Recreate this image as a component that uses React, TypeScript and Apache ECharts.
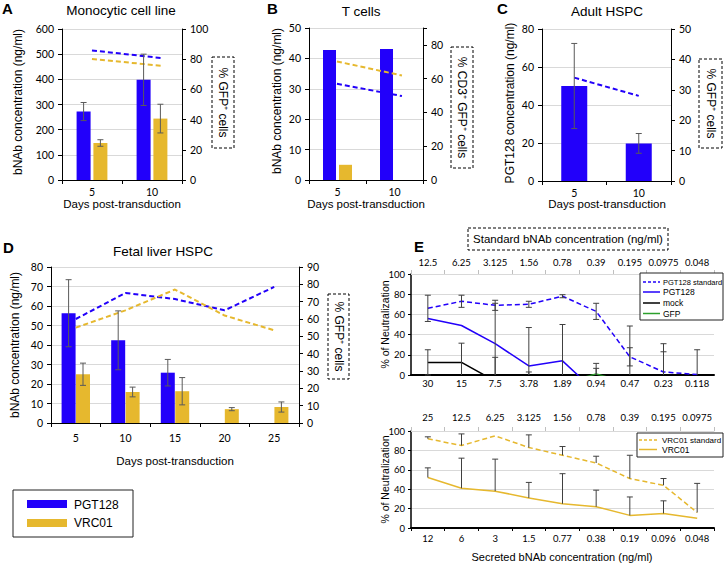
import React, { useEffect, useRef } from 'react';
import * as echarts from 'echarts';

const BLUE = '#2200FA';
const GOLD = '#E6B82E';
const GREEN = '#2CA02C';
const GRID_C = '#D9D9D9';
const ERR_C = '#5A5A5A';
const FONT = '"Liberation Sans", Arial, sans-serif';
const NUM = 'Lato, "Liberation Sans", sans-serif';

// ---- Panel A: Monocytic cell line
const daysAB = ['5', '10'];
const dayNumAB = [5, 10];
const aPGT = [272, 398];
const aPGTErr = [36, 102];
const aVRC = [147, 244];
const aVRCErr = [13, 57];
const aPGTGfp = [85.8, 80.8];
const aVRCGfp = [80.1, 75.7];

// ---- Panel B: T cells
const bPGT = [42.8, 43.1];
const bVRC = [5.0, null];
const bPGTGfp = [57.0, 49.7];
const bVRCGfp = [70.2, 61.9];

// ---- Panel C: Adult HSPC
const cPGT = [50, 19.8];
const cPGTErr = [22.4, 5.2];
const cPGTGfp = [34, 28];

// ---- Panel D: Fetal liver HSPC
const daysD = ['5', '10', '15', '20', '25'];
const dPGT = [56.3, 42.4, 25.8, null, null];
const dPGTErr = [17.2, 15.1, 6.8, null, null];
const dVRC = [25, 15.9, 16.3, 7.1, 8.2];
const dVRCErr = [5.7, 2.5, 7, 0.8, 2.6];
const dPGTGfp = [60, 75, 71.5, 65, 78.5];
const dVRCGfp = [55, 65, 77, 62, 53.5];

// ---- Panel E top: PGT128 neutralization
const eTopSecreted = ['30', '15', '7.5', '3.78', '1.89', '0.94', '0.47', '0.23', '0.118'];
const eTopStandard = ['12.5', '6.25', '3.125', '1.56', '0.78', '0.39', '0.195', '0.0975', '0.048'];
const pgtStd = [66, 73, 69, 70, 78, 63, 18, 3, 0.5];
const pgtStdErr = [13, 6, 5, 3, 1.5, 8, 9, 20, 0];
const pgtSec = [56, 49, 31, 9, 14, -17, -20, -20, -20];
const pgtSecErr = [0, 0, 40, 38, 36, 0, 0, 0, 0];
const mock = [12.5, 12.5, -6, -6, -6, -6, -6, -6, -6];
const mockErr = [12.5, 19, 23.5, 9, 0, 17.5, 54.5, 37, 31];
const gfp = [-10, -10, -10, -10, -8, 1, -8, -10, -10];
const gfpErr = [0, 0, 0, 0, 0, 5.6, 0, 0, 0];

// ---- Panel E bottom: VRC01 neutralization
const eBotSecreted = ['12', '6', '3', '1.5', '0.77', '0.38', '0.19', '0.096', '0.048'];
const eBotStandard = ['25', '12.5', '6.25', '3.125', '1.56', '0.78', '0.39', '0.195', '0.0975'];
const vrcStd = [92, 85, 95, 83, 75, 67, 51, 44, 16];
const vrcStdErr = [2, 12, 0, 13, 9, 7, 24, 7, 30];
const vrcSec = [52, 41, 38, 31, 25, 22, 13, 15, 10];
const vrcSecErr = [10, 31, 33, 16, 31, 17, 19, 13, 0];

function errSeries(xi: number, yi: number, rows: number[][], offset: number, color: string, cap: number) {
  return {
    type: 'custom',
    xAxisIndex: xi,
    yAxisIndex: yi,
    silent: true,
    z: 6,
    data: rows,
    renderItem: (params: any, api: any) => {
      const x = api.value(0);
      const v = api.value(1);
      const em = api.value(2);
      const ep = api.value(3);
      const hiV = v + ep;
      let loV = v - em;
      let loCap = em > 0;
      if (loV < 0) { loV = 0; loCap = false; }
      const hiCap = ep > 0;
      if (hiV <= loV) return null;
      const pHi = api.coord([x, hiV]);
      const pLo = api.coord([x, loV]);
      const cx = pHi[0] + offset;
      const st = { stroke: color, lineWidth: 1 };
      const children: any[] = [
        { type: 'line', shape: { x1: cx, y1: pHi[1], x2: cx, y2: pLo[1] }, style: st },
      ];
      if (hiCap) children.push({ type: 'line', shape: { x1: cx - cap, y1: pHi[1], x2: cx + cap, y2: pHi[1] }, style: st });
      if (loCap) children.push({ type: 'line', shape: { x1: cx - cap, y1: pLo[1], x2: cx + cap, y2: pLo[1] }, style: st });
      return { type: 'group', children };
    },
  };
}

function sym(vals: (number | null)[], errs: (number | null)[]) {
  const out: number[][] = [];
  vals.forEach((v, i) => {
    if (v !== null && errs[i] !== null) out.push([i, v, errs[i] as number, errs[i] as number]);
  });
  return out;
}
function plus(vals: number[], errs: number[]) {
  return vals.map((v, i) => [i, v, 0, errs[i]]);
}

function catX(gridIndex: number, data: string[], margin: number) {
  return {
    type: 'category', gridIndex, data,
    axisLine: { show: true, lineStyle: { color: '#000', width: 1 } },
    axisTick: { show: true, length: 4, lineStyle: { color: '#000' } },
    axisLabel: { color: '#000', fontFamily: NUM, fontSize: 10.5, margin, interval: 0 },
    splitLine: { show: false },
  };
}
function hiddenX(gridIndex: number, min: number, max: number) {
  return { type: 'value', gridIndex, min, max, show: false, splitLine: { show: false } };
}
function valY(gridIndex: number, min: number, max: number, interval: number, position: string, grid: boolean, fmt?: any) {
  return {
    type: 'value', gridIndex, min, max, interval, position,
    axisLine: { show: true, lineStyle: { color: '#000', width: 1 } },
    axisTick: { show: true, length: 4, lineStyle: { color: '#000' } },
    axisLabel: { color: '#000', fontFamily: NUM, fontSize: 10.5, margin: 8, formatter: fmt },
    splitLine: { show: grid, lineStyle: { color: GRID_C, width: 1 } },
  };
}
function eBottomX(gridIndex: number, data: string[], margin: number, ticks: boolean) {
  return {
    type: 'category', gridIndex, data, position: 'bottom',
    axisLine: { show: true, lineStyle: { color: '#000', width: 2 } },
    axisTick: { show: ticks, length: 3, lineStyle: { color: '#000' } },
    axisLabel: { color: '#000', fontFamily: NUM, fontSize: 9.5, margin, interval: 0 },
    splitLine: { show: false },
  };
}
function eTopX(gridIndex: number, data: string[], margin: number) {
  return {
    type: 'category', gridIndex, data, position: 'top',
    axisLine: { show: true, lineStyle: { color: GRID_C, width: 1 } },
    axisTick: { show: true, length: 4, lineStyle: { color: '#BFBFBF' } },
    axisLabel: { color: '#000', fontFamily: NUM, fontSize: 9.5, margin, interval: 0 },
    splitLine: { show: false },
  };
}
function eY(gridIndex: number) {
  return {
    type: 'value', gridIndex, min: 0, max: 100, interval: 20,
    axisLine: { show: true, lineStyle: { color: '#000', width: 1.5 } },
    axisTick: { show: true, length: 3, lineStyle: { color: '#000' } },
    axisLabel: { color: '#000', fontFamily: NUM, fontSize: 9.5, margin: 6 },
    splitLine: { show: true, lineStyle: { color: GRID_C, width: 1 } },
  };
}

function bar(name: string, xi: number, yi: number, data: any[], color: string, width: number, gap: string) {
  return {
    type: 'bar', name, xAxisIndex: xi, yAxisIndex: yi, data,
    barWidth: width, barGap: gap,
    itemStyle: { color },
  };
}
function line(name: string, xi: number, yi: number, data: any[], color: string, dashed: boolean, width = 2) {
  return {
    type: 'line', name, xAxisIndex: xi, yAxisIndex: yi, data,
    symbol: 'none', clip: true, z: 4,
    lineStyle: { color, width, type: dashed ? [5, 3] : 'solid' },
  };
}

function txt(x: number, y: number, text: string, font: string, align = 'center', rotation = 0) {
  return {
    type: 'text', x, y, rotation, z: 50,
    style: { text, font, fill: '#000', align, verticalAlign: 'middle', textAlign: align, textVerticalAlign: 'middle' },
  };
}
function dashBox(x: number, y: number, w: number, h: number) {
  return {
    type: 'rect', z: 40, shape: { x, y, width: w, height: h },
    style: { fill: '#fff', stroke: '#000', lineWidth: 1, lineDash: [3, 2] },
  };
}
function solidBox(x: number, y: number, w: number, h: number, stroke = '#333') {
  return {
    type: 'rect', z: 40, shape: { x, y, width: w, height: h },
    style: { fill: '#fff', stroke, lineWidth: 1 },
  };
}
function legLine(x1: number, x2: number, y: number, color: string, dashed: boolean) {
  return {
    type: 'line', z: 45, shape: { x1, y1: y, x2, y2: y },
    style: { stroke: color, lineWidth: 1.5, lineDash: dashed ? [3, 2] : null },
  };
}

const TITLE = `13.5px ${FONT}`;
const LETTER = `bold 15px ${FONT}`;
const AXNAME = `12px ${FONT}`;
const XNAME = `11.5px ${FONT}`;
const BOXF = `12px ${FONT}`;

export default function App() {
  const ref = useRef<HTMLDivElement>(null);
  useEffect(() => {
    if (!ref.current) return;
    const chart = echarts.init(ref.current, null, { renderer: 'svg' });
    const option: any = {
      animation: false,
      grid: [
        { left: 62, top: 29, width: 120, height: 151 },
        { left: 309, top: 28, width: 114, height: 152 },
        { left: 542, top: 29, width: 129, height: 152 },
        { left: 51, top: 267, width: 248, height: 156 },
        { left: 411, top: 274, width: 303, height: 101 },
        { left: 411, top: 431, width: 303, height: 97 },
      ],
      xAxis: [
        catX(0, daysAB, 6.5),          // 0
        hiddenX(0, 2.83, 11.52),       // 1
        catX(1, daysAB, 6.5),          // 2
        hiddenX(1, 2.85, 11.62),       // 3
        catX(2, daysAB, 6.5),          // 4
        catX(3, daysD, 9),             // 5
        eBottomX(4, eTopSecreted, 3.5, false), // 6
        eTopX(4, eTopStandard, 7),     // 7
        eBottomX(5, eBotSecreted, 5.5, true),  // 8
        eTopX(5, eBotStandard, 8.5),   // 9
      ],
      yAxis: [
        valY(0, 0, 600, 100, 'left', true),
        valY(0, 0, 100, 20, 'right', false),
        valY(1, 0, 50, 10, 'left', true),
        valY(1, 0, 90, 20, 'right', false, (v: number) => (v === 90 ? '' : String(v))),
        valY(2, 0, 80, 20, 'left', true),
        valY(2, 0, 50, 10, 'right', false),
        valY(3, 0, 80, 10, 'left', true),
        valY(3, 0, 90, 10, 'right', false),
        eY(4),
        eY(5),
      ],
      series: [
        // A
        bar('PGT128', 0, 0, aPGT, BLUE, 14, '20%'),
        bar('VRC01', 0, 0, aVRC, GOLD, 14, '20%'),
        errSeries(0, 0, sym(aPGT, aPGTErr), -8.4, ERR_C, 3),
        errSeries(0, 0, sym(aVRC, aVRCErr), 8.4, ERR_C, 3),
        line('PGT128 GFP', 1, 1, dayNumAB.map((d, i) => [d, aPGTGfp[i]]), BLUE, true),
        line('VRC01 GFP', 1, 1, dayNumAB.map((d, i) => [d, aVRCGfp[i]]), GOLD, true),
        // B
        bar('PGT128', 2, 2, bPGT, BLUE, 13, '23%'),
        bar('VRC01', 2, 2, bVRC, GOLD, 13, '23%'),
        line('PGT128 GFP', 3, 3, dayNumAB.map((d, i) => [d, bPGTGfp[i]]), BLUE, true),
        line('VRC01 GFP', 3, 3, dayNumAB.map((d, i) => [d, bVRCGfp[i]]), GOLD, true),
        // C
        bar('PGT128', 4, 4, cPGT, BLUE, 26, '20%'),
        errSeries(4, 4, sym(cPGT, cPGTErr), 0, ERR_C, 3),
        line('PGT128 GFP', 4, 5, cPGTGfp, BLUE, true),
        // D
        bar('PGT128', 5, 6, dPGT, BLUE, 14, '3%'),
        bar('VRC01', 5, 6, dVRC, GOLD, 14, '3%'),
        errSeries(5, 6, sym(dPGT, dPGTErr), -7.2, ERR_C, 3),
        errSeries(5, 6, sym(dVRC, dVRCErr), 7.2, ERR_C, 3),
        line('PGT128 GFP', 5, 7, dPGTGfp, BLUE, true),
        line('VRC01 GFP', 5, 7, dVRCGfp, GOLD, true),
        // E top
        line('GFP', 6, 8, gfp, GREEN, false, 1.5),
        line('mock', 6, 8, mock, '#000', false, 1.5),
        line('PGT128', 6, 8, pgtSec, BLUE, false, 1.5),
        line('PGT128 standard', 6, 8, pgtStd, BLUE, true, 1.5),
        errSeries(6, 8, sym(pgtStd, pgtStdErr), 0, '#404040', 3),
        errSeries(6, 8, sym(pgtSec, pgtSecErr), 0, '#404040', 3),
        errSeries(6, 8, sym(mock, mockErr), 0, '#404040', 3),
        errSeries(6, 8, sym(gfp, gfpErr), 0, '#404040', 3),
        // E bottom
        line('VRC01', 8, 9, vrcSec, GOLD, false, 1.5),
        line('VRC01 standard', 8, 9, vrcStd, GOLD, true, 1.5),
        errSeries(8, 9, plus(vrcStd, vrcStdErr), 0, '#404040', 3),
        errSeries(8, 9, plus(vrcSec, vrcSecErr), 0, '#404040', 3),
      ],
      graphic: [
        // Panel A
        txt(2, 8.5, 'A', LETTER, 'left'),
        txt(121, 10.5, 'Monocytic cell line', TITLE),
        txt(18, 102, 'bNAb concentration (ng/ml)', AXNAME, 'center', Math.PI / 2),
        txt(122, 204, 'Days post-transduction', XNAME),
        dashBox(212, 57, 22, 91),
        txt(223, 102.5, '% GFP⁺ cells', BOXF, 'center', -Math.PI / 2),
        // Panel B
        txt(267, 8.5, 'B', LETTER, 'left'),
        txt(361, 11.5, 'T cells', TITLE),
        txt(277, 101, 'bNAb concentration (ng/ml)', AXNAME, 'center', Math.PI / 2),
        txt(366, 204, 'Days post-transduction', XNAME),
        dashBox(451, 47, 22, 121),
        txt(462, 107.5, '% CD3⁺ GFP⁺ cells', BOXF, 'center', -Math.PI / 2),
        // Panel C
        txt(497, 8.5, 'C', LETTER, 'left'),
        txt(607, 11.5, 'Adult HSPC', TITLE),
        txt(510, 103, 'PGT128 concentration (ng/ml)', AXNAME, 'center', Math.PI / 2),
        txt(607, 204, 'Days post-transduction', XNAME),
        dashBox(699, 59, 23, 89),
        txt(710.5, 103.5, '% GFP⁺ cells', BOXF, 'center', -Math.PI / 2),
        // Panel D
        txt(3, 247, 'D', LETTER, 'left'),
        txt(163, 251.5, 'Fetal liver HSPC', TITLE),
        txt(15, 345, 'bNAb concentration (ng/ml)', AXNAME, 'center', Math.PI / 2),
        txt(175, 461, 'Days post-transduction', XNAME),
        dashBox(328, 294, 21, 85),
        txt(338.5, 336.5, '% GFP⁺ cells', BOXF, 'center', -Math.PI / 2),
        // Bottom-left legend
        solidBox(13, 490, 120, 47, '#222'),
        { type: 'rect', z: 45, shape: { x: 27, y: 500, width: 40, height: 8 }, style: { fill: BLUE } },
        { type: 'rect', z: 45, shape: { x: 27, y: 519, width: 40, height: 8 }, style: { fill: GOLD } },
        txt(74, 504.5, 'PGT128', `12px ${FONT}`, 'left'),
        txt(74, 523, 'VRC01', `12px ${FONT}`, 'left'),
        // Panel E
        txt(414, 246, 'E', LETTER, 'left'),
        dashBox(468, 228, 200, 22),
        txt(568, 239, 'Standard bNAb concentration (ng/ml)', `11.5px ${FONT}`),
        txt(385, 324.5, '% of Neutralization', `10.5px ${FONT}`, 'center', Math.PI / 2),
        txt(385, 479.5, '% of Neutralization', `10.5px ${FONT}`, 'center', Math.PI / 2),
        txt(562, 557, 'Secreted bNAb concentration (ng/ml)', `11px ${FONT}`),
        // E top legend
        solidBox(640, 273, 83, 47, '#222'),
        legLine(643, 660, 282, BLUE, true),
        legLine(643, 660, 292, BLUE, false),
        legLine(643, 660, 303, '#000', false),
        legLine(643, 660, 313.5, GREEN, false),
        txt(663, 282, 'PGT128 standard', `7.5px ${FONT}`, 'left'),
        txt(663, 292, 'PGT128', `8.5px ${FONT}`, 'left'),
        txt(663, 303, 'mock', `8.5px ${FONT}`, 'left'),
        txt(663, 313.5, 'GFP', `8.5px ${FONT}`, 'left'),
        // E bottom legend
        solidBox(637, 433, 86, 24, '#222'),
        legLine(639, 657, 440, GOLD, true),
        legLine(639, 657, 449.5, GOLD, false),
        txt(662, 440, 'VRC01 standard', `8px ${FONT}`, 'left'),
        txt(662, 449.5, 'VRC01', `8.5px ${FONT}`, 'left'),
      ],
    };
    chart.setOption(option);
    return () => chart.dispose();
  }, []);
  return (
    <div
      ref={ref}
      style={{ position: 'fixed', left: 0, top: 0, width: 724, height: 563, background: '#fff' }}
    />
  );
}
